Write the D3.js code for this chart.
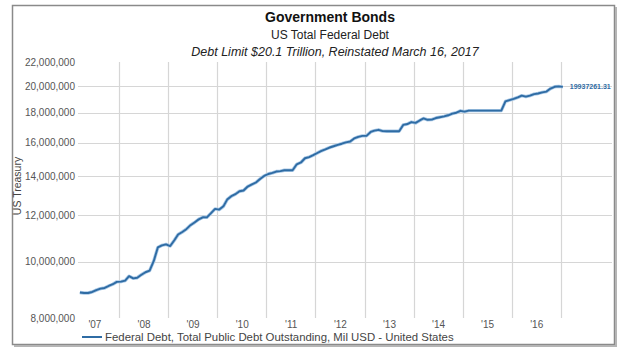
<!DOCTYPE html>
<html>
<head>
<meta charset="utf-8">
<script src="https://cdn.jsdelivr.net/npm/d3@7"></script>
<style>
  body { margin: 0; background: #fff; }
  text { font-family: "Liberation Sans", Arial, sans-serif; }
</style>
</head>
<body>
<div id="chart"></div>
<script>
// monthly total public debt outstanding, Mil USD (Mar 2007 - Jan 2017)
var months = [
  "2007-03","2007-04","2007-05","2007-06","2007-07","2007-08","2007-09","2007-10","2007-11","2007-12",
  "2008-01","2008-02","2008-03","2008-04","2008-05","2008-06","2008-07","2008-08","2008-09","2008-10","2008-11","2008-12",
  "2009-01","2009-02","2009-03","2009-04","2009-05","2009-06","2009-07","2009-08","2009-09","2009-10","2009-11","2009-12",
  "2010-01","2010-02","2010-03","2010-04","2010-05","2010-06","2010-07","2010-08","2010-09","2010-10","2010-11","2010-12",
  "2011-01","2011-02","2011-03","2011-04","2011-05","2011-06","2011-07","2011-08","2011-09","2011-10","2011-11","2011-12",
  "2012-01","2012-02","2012-03","2012-04","2012-05","2012-06","2012-07","2012-08","2012-09","2012-10","2012-11","2012-12",
  "2013-01","2013-02","2013-03","2013-04","2013-05","2013-06","2013-07","2013-08","2013-09","2013-10","2013-11","2013-12",
  "2014-01","2014-02","2014-03","2014-04","2014-05","2014-06","2014-07","2014-08","2014-09","2014-10","2014-11","2014-12",
  "2015-01","2015-02","2015-03","2015-04","2015-05","2015-06","2015-07","2015-08","2015-09","2015-10","2015-11","2015-12",
  "2016-01","2016-02","2016-03","2016-04","2016-05","2016-06","2016-07","2016-08","2016-09","2016-10","2016-11","2016-12",
  "2017-01"
];
var debt = [
  8849000, 8832000, 8830000, 8867000, 8932000, 8986000, 9008000, 9079000, 9142000, 9229000,
  9238000, 9275000, 9437000, 9358000, 9380000, 9492000, 9585000, 9645000, 10025000, 10574000, 10661000, 10700000,
  10632000, 10877000, 11127000, 11238000, 11364000, 11545000, 11668000, 11813000, 11910000, 11906000, 12109000, 12311000,
  12278000, 12437000, 12773000, 12948000, 13050000, 13202000, 13238000, 13448000, 13562000, 13666000, 13861000, 14025000,
  14133000, 14195000, 14270000, 14294000, 14345000, 14343000, 14342000, 14684000, 14790000, 15041000, 15111000, 15223000,
  15356000, 15488000, 15582000, 15692000, 15771000, 15856000, 15929000, 16016000, 16066000, 16261000, 16370000, 16433000,
  16433000, 16687000, 16771000, 16829000, 16739000, 16738000, 16738000, 16738000, 16738000, 17156000, 17217000, 17352000,
  17293000, 17463000, 17601000, 17508000, 17517000, 17632000, 17688000, 17750000, 17824000, 17937000, 18005000, 18141000,
  18082000, 18155000, 18152000, 18152000, 18152000, 18151000, 18151000, 18151000, 18151000, 18153000, 18827000, 18922000,
  19013000, 19126000, 19264000, 19187000, 19265000, 19381000, 19427000, 19511000, 19573000, 19805000, 19948000, 19977000,
  19937261.31
];
var yTicks = [8000000, 10000000, 12000000, 14000000, 16000000, 18000000, 20000000, 22000000];
var yearLabels = ["'07","'08","'09","'10","'11","'12","'13","'14","'15","'16"];
var lastLabel = "19937261.31";

var width = 623, height = 353;
var plotLeft = 78, plotRight = 610, plotTop = 62, plotBottom = 318;
var lineColor = "#2f6ca4";

var svg = d3.select("#chart").append("svg")
    .attr("width", width)
    .attr("height", height);

// frame
svg.append("rect")
    .attr("x", 12.5).attr("y", 5.5)
    .attr("width", 602).attr("height", 339)
    .attr("fill", "#fff")
    .attr("stroke", "#8a8a8a")
    .attr("stroke-width", 1.5);
svg.append("path")
    .attr("d", "M616,7V346H14")
    .attr("fill", "none")
    .attr("stroke", "#b5b5b5")
    .attr("stroke-width", 2);

var parseMonth = d3.timeParse("%Y-%m");
var data = months.map(function(m, i){
    var d = parseMonth(m);
    d.setDate(15);
    return { date: d, value: debt[i] };
});

var x = d3.scaleTime()
    .domain([new Date(2007, 2, 1), new Date(2018, 0, 1)])
    .range([plotLeft, plotRight]);

var y = d3.scaleLog()
    .domain([8000000, 22000000])
    .range([plotBottom, plotTop]);

// horizontal grid
svg.append("g")
    .selectAll("line")
    .data(yTicks.filter(function(t){ return t > 8000000 && t < 22000000; }))
    .enter().append("line")
    .attr("x1", plotLeft).attr("x2", plotRight + 2)
    .attr("y1", function(d){ return Math.round(y(d)) + 0.5; })
    .attr("y2", function(d){ return Math.round(y(d)) + 0.5; })
    .attr("stroke", "#d6d6d6")
    .attr("stroke-width", 1.2);

// vertical grid at year starts
var yearStarts = d3.range(2008, 2018).map(function(yr){ return new Date(yr, 0, 1); });
svg.append("g")
    .selectAll("line")
    .data(yearStarts)
    .enter().append("line")
    .attr("x1", function(d){ return Math.round(x(d)) + 0.5; })
    .attr("x2", function(d){ return Math.round(x(d)) + 0.5; })
    .attr("y1", plotTop)
    .attr("y2", plotBottom)
    .attr("stroke", "#d6d6d6")
    .attr("stroke-width", 1.2);

// y axis labels
var yAxis = d3.axisLeft(y)
    .tickValues(yTicks)
    .tickFormat(d3.format(","))
    .tickSize(0)
    .tickPadding(3);
var gy = svg.append("g")
    .attr("transform", "translate(" + plotLeft + ",0)")
    .call(yAxis);
gy.select(".domain").remove();
gy.selectAll("text")
    .attr("fill", "#555")
    .style("font-size", "10px")
    .style("font-family", "'Liberation Sans', Arial, sans-serif");

// x axis labels in mid-year
var midYears = yearLabels.map(function(l, i){ return new Date(2007 + i, 6, 1); });
var xAxis = d3.axisBottom(x)
    .tickValues(midYears)
    .tickFormat(function(d, i){ return yearLabels[i]; })
    .tickSize(0)
    .tickPadding(3);
var gx = svg.append("g")
    .attr("transform", "translate(0," + plotBottom + ")")
    .call(xAxis);
gx.select(".domain").remove();
gx.selectAll("text")
    .attr("fill", "#555")
    .style("font-size", "10px")
    .style("font-family", "'Liberation Sans', Arial, sans-serif");

// line
var line = d3.line()
    .x(function(d){ return x(d.date); })
    .y(function(d){ return y(d.value); });

svg.append("path")
    .datum(data)
    .attr("d", line)
    .attr("fill", "none")
    .attr("stroke", "#a9c8e6")
    .attr("stroke-width", 3.4)
    .attr("stroke-linejoin", "round");
svg.append("path")
    .datum(data)
    .attr("d", line)
    .attr("fill", "none")
    .attr("stroke", lineColor)
    .attr("stroke-width", 1.9)
    .attr("stroke-linejoin", "round");

// last value label
var last = data[data.length - 1];
svg.append("text")
    .attr("x", x(last.date) + 7)
    .attr("y", y(last.value) + 2.5)
    .attr("fill", lineColor)
    .style("font-size", "7px")
    .style("font-weight", "bold")
    .text(lastLabel);

// titles
svg.append("text")
    .attr("x", 330).attr("y", 22)
    .attr("text-anchor", "middle")
    .attr("fill", "#111")
    .style("font-size", "14px")
    .style("font-weight", "bold")
    .text("Government Bonds");
svg.append("text")
    .attr("x", 330).attr("y", 39)
    .attr("text-anchor", "middle")
    .attr("fill", "#222")
    .style("font-size", "12px")
    .text("US Total Federal Debt");
svg.append("text")
    .attr("x", 335).attr("y", 56)
    .attr("text-anchor", "middle")
    .attr("fill", "#222")
    .style("font-size", "12.5px")
    .style("font-style", "italic")
    .text("Debt Limit $20.1 Trillion, Reinstated March 16, 2017");

// y axis title
svg.append("text")
    .attr("transform", "translate(21,186) rotate(-90)")
    .attr("text-anchor", "middle")
    .attr("fill", "#444")
    .style("font-size", "10.5px")
    .text("US Treasury");

// legend
svg.append("line")
    .attr("x1", 82).attr("x2", 102)
    .attr("y1", 337).attr("y2", 337)
    .attr("stroke", lineColor)
    .attr("stroke-width", 2);
svg.append("text")
    .attr("x", 105).attr("y", 341)
    .attr("fill", "#444")
    .style("font-size", "11.4px")
    .text("Federal Debt, Total Public Debt Outstanding, Mil USD - United States");
</script>
</body>
</html>
